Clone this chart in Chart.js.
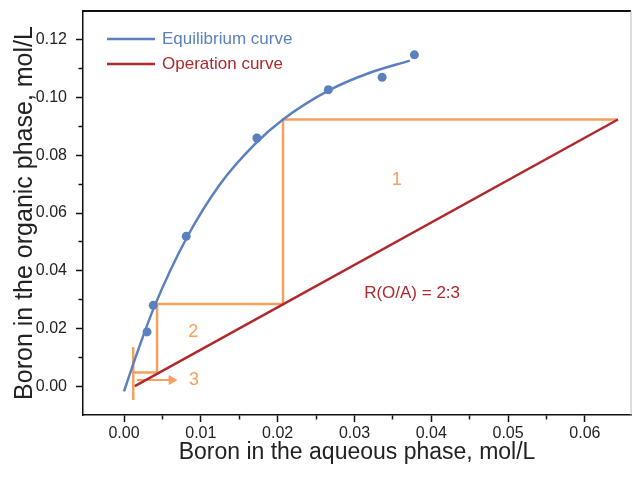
<!DOCTYPE html>
<html>
<head>
<meta charset="utf-8">
<script src="https://cdn.jsdelivr.net/npm/chart.js@4"></script>
<style>
  body { margin: 0; background: #fff; }
</style>
</head>
<body>
<canvas id="mccabeChart" width="633" height="479"></canvas>
<script>
// measured equilibrium points (aqueous x, organic y), mol/L
const eqPointX = [0.0030, 0.0038, 0.0081, 0.0173, 0.0266, 0.0336, 0.0378];
const eqPointY = [0.0188, 0.0280, 0.0519, 0.0860, 0.1027, 0.1070, 0.1148];

// fitted equilibrium curve
const eqCurveX = [0.0000, 0.0014, 0.0040, 0.0082, 0.0125, 0.0170, 0.0207, 0.0266, 0.0320, 0.0372];
const eqCurveY = [-0.0018, 0.0092, 0.0279, 0.0516, 0.0700, 0.0838, 0.0924, 0.1024, 0.1086, 0.1128];

// operation line, R(O/A) = 2:3
const opX = [0.0014, 0.0643];
const opY = [0.0000, 0.0924];

// stage construction (orange steps)
const stairX = [0.0643, 0.0207, 0.0207, 0.0043, 0.0043, 0.0012];
const stairY = [0.0924, 0.0924, 0.0285, 0.0285, 0.0047, 0.0047];
const markX = [0.0012, 0.0012];
const markY = [0.0136, -0.0048];
const arrowX = [0.00165, 0.0062];
const arrowY = [0.0021, 0.0021];

// labels
const legendNames = ['Equilibrium curve', 'Operation curve'];
const stageLabels = ['1', '2', '3'];
const stageLabelX = [0.0355, 0.0090, 0.0091];
const stageLabelY = [0.0713, 0.0187, 0.0021];
const ratioLabel = 'R(O/A) = 2:3';
const ratioLabelPos = [0.0375, 0.0322];

const fontFamily = '"Liberation Sans", Arial, sans-serif';
const blue = '#5a80be';
const red = '#b0282c';
const orange = '#f6a05f';
const legendColors = [blue, red];

// zip two arrays into {x, y} points
function toPoints (xs, ys) {
    return xs.map((v, i) => ({ x: v, y: ys[i] }));
}

// is this tick a labelled (major) one
function isMajor (value, step) {
    return Math.abs(Math.round(value / step) * step - value) < 1e-9;
}

const annotate = {
    id: 'annotate',
    afterDatasetsDraw (chart) {
        const { ctx, scales: { x, y } } = chart;
        ctx.save();
        ctx.textAlign = 'center';
        ctx.textBaseline = 'middle';
        ctx.font = '18px ' + fontFamily;
        ctx.fillStyle = orange;
        stageLabels.forEach((t, i) => {
            ctx.fillText(t, x.getPixelForValue(stageLabelX[i]), y.getPixelForValue(stageLabelY[i]));
        });
        ctx.font = '17px ' + fontFamily;
        ctx.fillStyle = red;
        ctx.fillText(ratioLabel, x.getPixelForValue(ratioLabelPos[0]), y.getPixelForValue(ratioLabelPos[1]));
        ctx.restore();
    },
    afterDraw (chart) {
        const { ctx, chartArea: a } = chart;
        ctx.save();
        // top and right frame
        ctx.strokeStyle = '#111';
        ctx.lineWidth = 2;
        ctx.beginPath();
        ctx.moveTo(a.left, a.top);
        ctx.lineTo(a.right, a.top);
        ctx.stroke();
        ctx.strokeStyle = '#bbbbbb';
        ctx.lineWidth = 1;
        ctx.beginPath();
        ctx.moveTo(a.right, a.top);
        ctx.lineTo(a.right, a.bottom);
        ctx.stroke();
        // legend inside the plot
        ctx.font = '17px ' + fontFamily;
        ctx.textBaseline = 'middle';
        ctx.textAlign = 'left';
        legendNames.forEach((name, i) => {
            const ly = a.top + 28 + i * 25;
            ctx.strokeStyle = legendColors[i];
            ctx.lineWidth = 2.5;
            ctx.beginPath();
            ctx.moveTo(a.left + 24, ly);
            ctx.lineTo(a.left + 72, ly);
            ctx.stroke();
            ctx.fillStyle = legendColors[i];
            ctx.fillText(name, a.left + 79, ly);
        });
        ctx.restore();
    }
};

const data = {
    datasets: [
        {
            label: 'Equilibrium data',
            data: toPoints(eqPointX, eqPointY),
            showLine: false,
            pointRadius: 4.5,
            pointBackgroundColor: blue,
            pointBorderWidth: 0
        },
        {
            label: 'Equilibrium curve',
            data: toPoints(eqCurveX, eqCurveY),
            showLine: true,
            borderColor: blue,
            borderWidth: 2.5,
            pointRadius: 0,
            cubicInterpolationMode: 'monotone'
        },
        {
            label: 'Operation curve',
            data: toPoints(opX, opY),
            showLine: true,
            borderColor: red,
            borderWidth: 2.5,
            pointRadius: 0
        },
        {
            label: 'Stages',
            data: toPoints(stairX, stairY),
            showLine: true,
            borderColor: orange,
            borderWidth: 2.5,
            pointRadius: 0
        },
        {
            label: 'Marker',
            data: toPoints(markX, markY),
            showLine: true,
            borderColor: orange,
            borderWidth: 2.5,
            pointRadius: 0
        },
        {
            label: 'Arrow',
            data: toPoints(arrowX, arrowY),
            showLine: true,
            borderColor: orange,
            borderWidth: 2,
            pointRadius: [0, 5],
            pointStyle: 'triangle',
            rotation: 90,
            pointBackgroundColor: orange,
            pointBorderColor: orange,
            pointBorderWidth: 1
        }
    ]
};

const config = {
    type: 'scatter',
    data: data,
    options: {
        responsive: false,
        animation: false,
        layout: { autoPadding: false, padding: { top: 11, right: 2, left: 0, bottom: 0 } },
        plugins: {
            legend: { display: false },
            tooltip: { enabled: false }
        },
        scales: {
            x: {
                type: 'linear',
                min: -0.00534,
                max: 0.066,
                border: { color: '#111', width: 1.5 },
                grid: {
                    drawOnChartArea: false,
                    tickLength: 7,
                    tickWidth: 1.5,
                    tickColor: (c) => (c.tick.value < -1e-9 || c.tick.value > 0.0601 ? 'rgba(0,0,0,0)' : '#111'),
                    tickBorderDash: (c) => (isMajor(c.tick.value, 0.01) ? [] : [4, 100])
                },
                ticks: {
                    stepSize: 0.005,
                    includeBounds: false,
                    padding: 2,
                    color: '#222',
                    font: { family: fontFamily, size: 16 },
                    maxRotation: 0,
                    autoSkip: false,
                    callback: (v) => (isMajor(v, 0.01) && v > -1e-9 && v < 0.0601 ? v.toFixed(2) : '')
                },
                title: {
                    display: true,
                    text: 'Boron in the aqueous phase, mol/L',
                    color: '#222',
                    font: { family: fontFamily, size: 23 },
                    padding: { top: 0, bottom: 13 }
                },
                afterFit: (scale) => {
                    scale.height = 64;
                    scale.paddingLeft = 0;
                    scale.paddingRight = 0;
                }
            },
            y: {
                type: 'linear',
                min: -0.01,
                max: 0.13,
                border: { color: '#111', width: 1.5 },
                grid: {
                    drawOnChartArea: false,
                    tickLength: 7,
                    tickWidth: 1.5,
                    tickColor: (c) => (c.tick.value < -1e-9 || c.tick.value > 0.1201 ? 'rgba(0,0,0,0)' : '#111'),
                    tickBorderDash: (c) => (isMajor(c.tick.value, 0.02) ? [] : [0, 2.5, 4, 100])
                },
                ticks: {
                    stepSize: 0.01,
                    includeBounds: false,
                    padding: 9,
                    color: '#222',
                    font: { family: fontFamily, size: 16 },
                    autoSkip: false,
                    callback: (v) => (isMajor(v, 0.02) && v > -1e-9 && v < 0.1201 ? v.toFixed(2) : '')
                },
                title: {
                    display: true,
                    text: 'Boron in the organic phase, mol/L',
                    color: '#222',
                    font: { family: fontFamily, size: 25 },
                    padding: { top: 10, bottom: 0 }
                },
                afterFit: (scale) => {
                    scale.width = 83;
                    scale.paddingTop = 0;
                    scale.paddingBottom = 0;
                }
            }
        }
    },
    plugins: [annotate]
};

const myChart = new Chart(document.getElementById('mccabeChart'), config);
</script>
</body>
</html>
